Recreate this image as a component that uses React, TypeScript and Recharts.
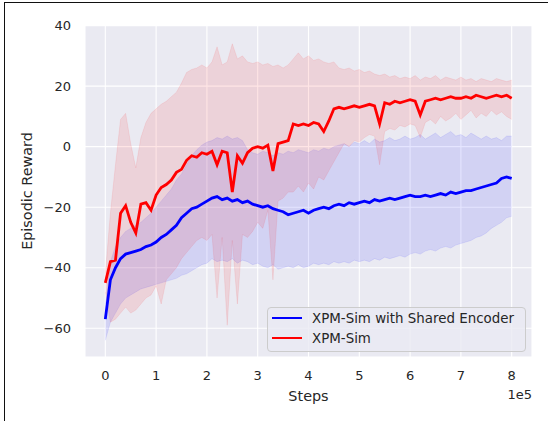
import { ComposedChart, Area, Line, XAxis, YAxis, CartesianGrid, Legend, Label } from "recharts";

const FONT = "'DejaVu Sans', sans-serif";
const TEXT = "#262626";
const BG = "#EAEAF2";

// training steps, in units of 1e5
const steps = [
  0, 0.1, 0.2, 0.3, 0.4, 0.5, 0.6, 0.7, 0.8, 0.9,
  1, 1.1, 1.2, 1.3, 1.4, 1.5, 1.6, 1.7, 1.8, 1.9,
  2, 2.1, 2.2, 2.3, 2.4, 2.5, 2.6, 2.7, 2.8, 2.9,
  3, 3.1, 3.2, 3.3, 3.4, 3.5, 3.6, 3.7, 3.8, 3.9,
  4, 4.1, 4.2, 4.3, 4.4, 4.5, 4.6, 4.7, 4.8, 4.9,
  5, 5.1, 5.2, 5.3, 5.4, 5.5, 5.6, 5.7, 5.8, 5.9,
  6, 6.1, 6.2, 6.3, 6.4, 6.5, 6.6, 6.7, 6.8, 6.9,
  7, 7.1, 7.2, 7.3, 7.4, 7.5, 7.6, 7.7, 7.8, 7.9,
  8,
];

const seriesNames = ["XPM-Sim with Shared Encoder", "XPM-Sim"];

// XPM-Sim with Shared Encoder
const blueMean = [
  -57, -44, -40, -37, -35.5, -35, -34.5, -34, -33, -32.5,
  -31.5, -30, -29, -27.5, -26, -23.5, -22, -20.5, -20, -19,
  -18, -17, -16.5, -17.5, -17, -18, -17.5, -18.5, -18, -19,
  -19.5, -20, -19.5, -20.5, -21, -21.5, -22.5, -22, -21.5, -21,
  -22, -21, -20.5, -20, -20.5, -19.5, -19, -19.5, -18.5, -19,
  -18.5, -18, -18.5, -17.5, -18, -17.5, -17, -17.5, -17, -16.5,
  -16, -16.5, -16.5, -16, -16.5, -16, -15.5, -16, -15, -15.5,
  -15, -14.5, -14.5, -14, -13.5, -13, -12.5, -12, -10.5, -10,
  -10.5,
];
const blueHigh = [
  -52, -38, -33, -30, -28, -27, -26, -25, -23.5, -22,
  -20, -18, -16, -14, -11, -9, -6, -3, -1, 0.5,
  1.5, 2, 3, 2.5, 3.5, 2.5, 3, 2, -1, -2,
  -2.5, -1.5, -2, -3, -2, -2.5, -1.5, -2, -1, -1.5,
  -2, -1, -1.5, -0.5, -1, 0, 0.5, 1, 0, 1.5,
  1, 2, 1, 2.5, 1.5, 2, 3, 2, 2.5, 3.5,
  2.5, 3, 4, 2.5, 3.5, 4.5, 3, 4, 5, 3.5,
  4, 3, 4.5, 3.5, 2.5, 3.5, 2.5, 3, 2, 3.5,
  3.5,
];
const blueLow = [
  -64, -58, -55, -52, -50, -49, -48, -47, -46.5, -46,
  -45.5, -45, -44.5, -44, -43.5, -42.5, -42, -41, -40, -39,
  -38.5, -37, -38, -37.5, -38, -37, -38.5, -37.5, -38, -39,
  -38.5, -39.5, -40, -39, -40.5, -40, -39.5, -40, -39, -40,
  -39.5, -38.5, -39, -38.5, -39, -38, -38.5, -38, -38.5, -37.5,
  -38, -37.5, -38, -37, -37.5, -36.5, -37, -36.5, -36, -36.5,
  -35.5, -35, -35.5, -34.5, -34, -34.5, -33.5, -33, -33.5, -32.5,
  -32, -31.5, -31, -30, -29.5, -28.5, -27, -26, -25, -23.5,
  -23,
];

// XPM-Sim
const redMean = [
  -45, -38, -37.5, -22, -19.5, -25, -28.5, -19, -18.5, -21,
  -16, -13.5, -12.5, -11, -8.5, -7.5, -4.5, -3, -3.5, -2,
  -2.5, -1.5, -6, -1.5, -2, -15, -3, -5.5, -2, -0.5,
  0, -0.5, 0.5, -8, 1, 1.5, 2, 7.5, 7, 7.5,
  7, 8, 7.5, 5, 8.5, 12.5, 13, 12.5, 13, 13.5,
  13, 13.5, 14, 13.5, 7.5, 14.5, 14, 15, 14.5, 15,
  15.5, 15, 10.5, 15, 15.5, 16, 15.5, 16, 16.5, 16,
  16, 16.5, 16, 17, 16.5, 16, 16.5, 17, 16.5, 17,
  16,
];
const redHigh = [
  -42, -22, -6, 9, 11, 1, -7, 3, 8, 11,
  12.5, 14, 15, 16.5, 18, 21, 24.5, 25.5, 26, 27,
  26, 28, 33, 27, 28, 34, 29, 30, 28, 27.5,
  28, 27, 27.5, 26.5, 27, 26, 27, 29, 31, 29,
  30, 28.5, 29, 28, 27.5, 28, 26, 25.5, 26, 25,
  25.5, 24.5, 25, 24, 23.5, 24, 23, 23.5, 22.5, 23,
  22.5, 23.5, 22, 23, 22.5, 23.5, 22, 23, 22.5, 22,
  23, 22, 22.5, 21.5, 22.5, 22, 21.5, 22.5, 22, 21.5,
  22,
];
const redLow = [
  -48, -58, -57, -55, -53, -55, -54, -52, -50, -49,
  -46, -52, -44, -42, -40, -37, -35, -33, -31, -30,
  -31, -29, -50, -30, -59, -31, -52, -29, -30, -28,
  -25, -27, -21, -44, -18, -17, -15, -15, -13, -15,
  -12, -14, -10, -11, -8, -5, -2, 1, 0, 2,
  1.5, 3, 4, 3.5, -6, 5, 6, 5.5, 7, 6.5,
  7.5, 7, 3, 8, 9, 7.5, 10, 8.5, 9.5, 11,
  9, 10.5, 12, 9.5, 11, 10, 12, 10.5, 11.5, 10,
  9,
];

const xTicks = [0, 1, 2, 3, 4, 5, 6, 7, 8];
const yTicks = [-60, -40, -20, 0, 20, 40];

const data = steps.map((step, i) => ({
  step,
  blueMean: blueMean[i],
  blueBand: [blueLow[i], blueHigh[i]],
  redMean: redMean[i],
  redBand: [redLow[i], redHigh[i]],
}));

const fmtY = (v: number) => (v < 0 ? "\u2212" + Math.abs(v) : String(v));

function LegendBox(props: any) {
  const items = (props.payload || [])
    .filter((p: any) => seriesNames.includes(p.value))
    .sort((a: any, b: any) => seriesNames.indexOf(a.value) - seriesNames.indexOf(b.value));
  return (
    <div
      style={{
        width: 259,
        height: 45,
        boxSizing: "border-box",
        background: "rgba(234,234,242,0.8)",
        border: "1px solid #CCCCCC",
        borderRadius: 4,
        paddingLeft: 4,
        fontFamily: FONT,
        fontSize: 13.4,
        color: TEXT,
        textAlign: "left",
      }}
    >
      {items.map((entry: any) => (
        <div key={entry.value} style={{ display: "flex", alignItems: "center", height: 20 }}>
          <span
            style={{
              display: "inline-block",
              width: 30,
              height: 0,
              borderTop: `2.5px solid ${entry.color}`,
              marginRight: 10,
            }}
          />
          <span style={{ whiteSpace: "nowrap" }}>{entry.value}</span>
        </div>
      ))}
    </div>
  );
}

export default function App() {
  return (
    <div style={{ position: "absolute", left: 0, top: 0, width: 548, height: 421, background: "#fff", overflow: "hidden" }}>
      <div
        style={{
          position: "absolute",
          left: 4,
          top: 2,
          width: 600,
          height: 500,
          borderLeft: "1.5px solid #111",
          borderTop: "1.5px solid #111",
        }}
      />
      <ComposedChart
        width={548}
        height={421}
        data={data}
        margin={{ top: 25, right: 16, bottom: 4, left: 25 }}
        style={{ position: "absolute", left: 0, top: 0 }}
      >
        <CartesianGrid fill={BG} stroke="#FFFFFF" strokeWidth={1.1} />
        <XAxis
          type="number"
          dataKey="step"
          domain={[-0.4, 8.4]}
          ticks={xTicks}
          interval={0}
          allowDataOverflow
          axisLine={false}
          tickLine={false}
          tickSize={0}
          tickMargin={14}
          height={60}
          tick={{ fill: TEXT, fontSize: 13, fontFamily: FONT }}
        >
          <Label
            content={(p: any) => {
              const vb = p.viewBox || { x: 85, y: 357, width: 447 };
              return (
                <text x={vb.x + vb.width / 2} y={vb.y + 43.5} textAnchor="middle" fill={TEXT} fontSize={14.4} fontFamily={FONT}>
                  Steps
                </text>
              );
            }}
          />
          <Label
            content={(p: any) => {
              const vb = p.viewBox || { x: 85, y: 357, width: 447 };
              return (
                <text x={vb.x + vb.width} y={vb.y + 41.5} textAnchor="end" fill={TEXT} fontSize={13} fontFamily={FONT}>
                  1e5
                </text>
              );
            }}
          />
        </XAxis>
        <YAxis
          type="number"
          domain={[-69.5, 40.2]}
          ticks={yTicks}
          interval={0}
          allowDataOverflow
          axisLine={false}
          tickLine={false}
          tickSize={0}
          tickMargin={14}
          width={60}
          tickFormatter={fmtY}
          tick={{ fill: TEXT, fontSize: 13, fontFamily: FONT }}
        >
          <Label
            content={(p: any) => {
              const vb = p.viewBox || { x: 25, y: 25, height: 332 };
              const x = 32.3;
              const y = vb.y + vb.height / 2;
              return (
                <text x={x} y={y} transform={`rotate(-90, ${x}, ${y})`} textAnchor="middle" fill={TEXT} fontSize={14.4} fontFamily={FONT}>
                  Episodic Reward
                </text>
              );
            }}
          />
        </YAxis>
        <Area
          dataKey="blueBand"
          type="linear"
          stroke="#0000FF"
          strokeOpacity={0.08}
          strokeWidth={1}
          fill="#0000FF"
          fillOpacity={0.1}
          legendType="none"
          activeDot={false}
          isAnimationActive={false}
        />
        <Line
          dataKey="blueMean"
          name={seriesNames[0]}
          type="linear"
          stroke="#0000FF"
          strokeWidth={2.8}
          dot={false}
          activeDot={false}
          isAnimationActive={false}
        />
        <Area
          dataKey="redBand"
          type="linear"
          stroke="#FF0000"
          strokeOpacity={0.08}
          strokeWidth={1}
          fill="#FF0000"
          fillOpacity={0.1}
          legendType="none"
          activeDot={false}
          isAnimationActive={false}
        />
        <Line
          dataKey="redMean"
          name={seriesNames[1]}
          type="linear"
          stroke="#FF0000"
          strokeWidth={2.8}
          dot={false}
          activeDot={false}
          isAnimationActive={false}
        />
        <Legend
          layout="vertical"
          align="center"
          verticalAlign="middle"
          content={LegendBox}
          wrapperStyle={{ left: 267, top: 307, width: 259, height: 45 }}
        />
      </ComposedChart>
    </div>
  );
}
